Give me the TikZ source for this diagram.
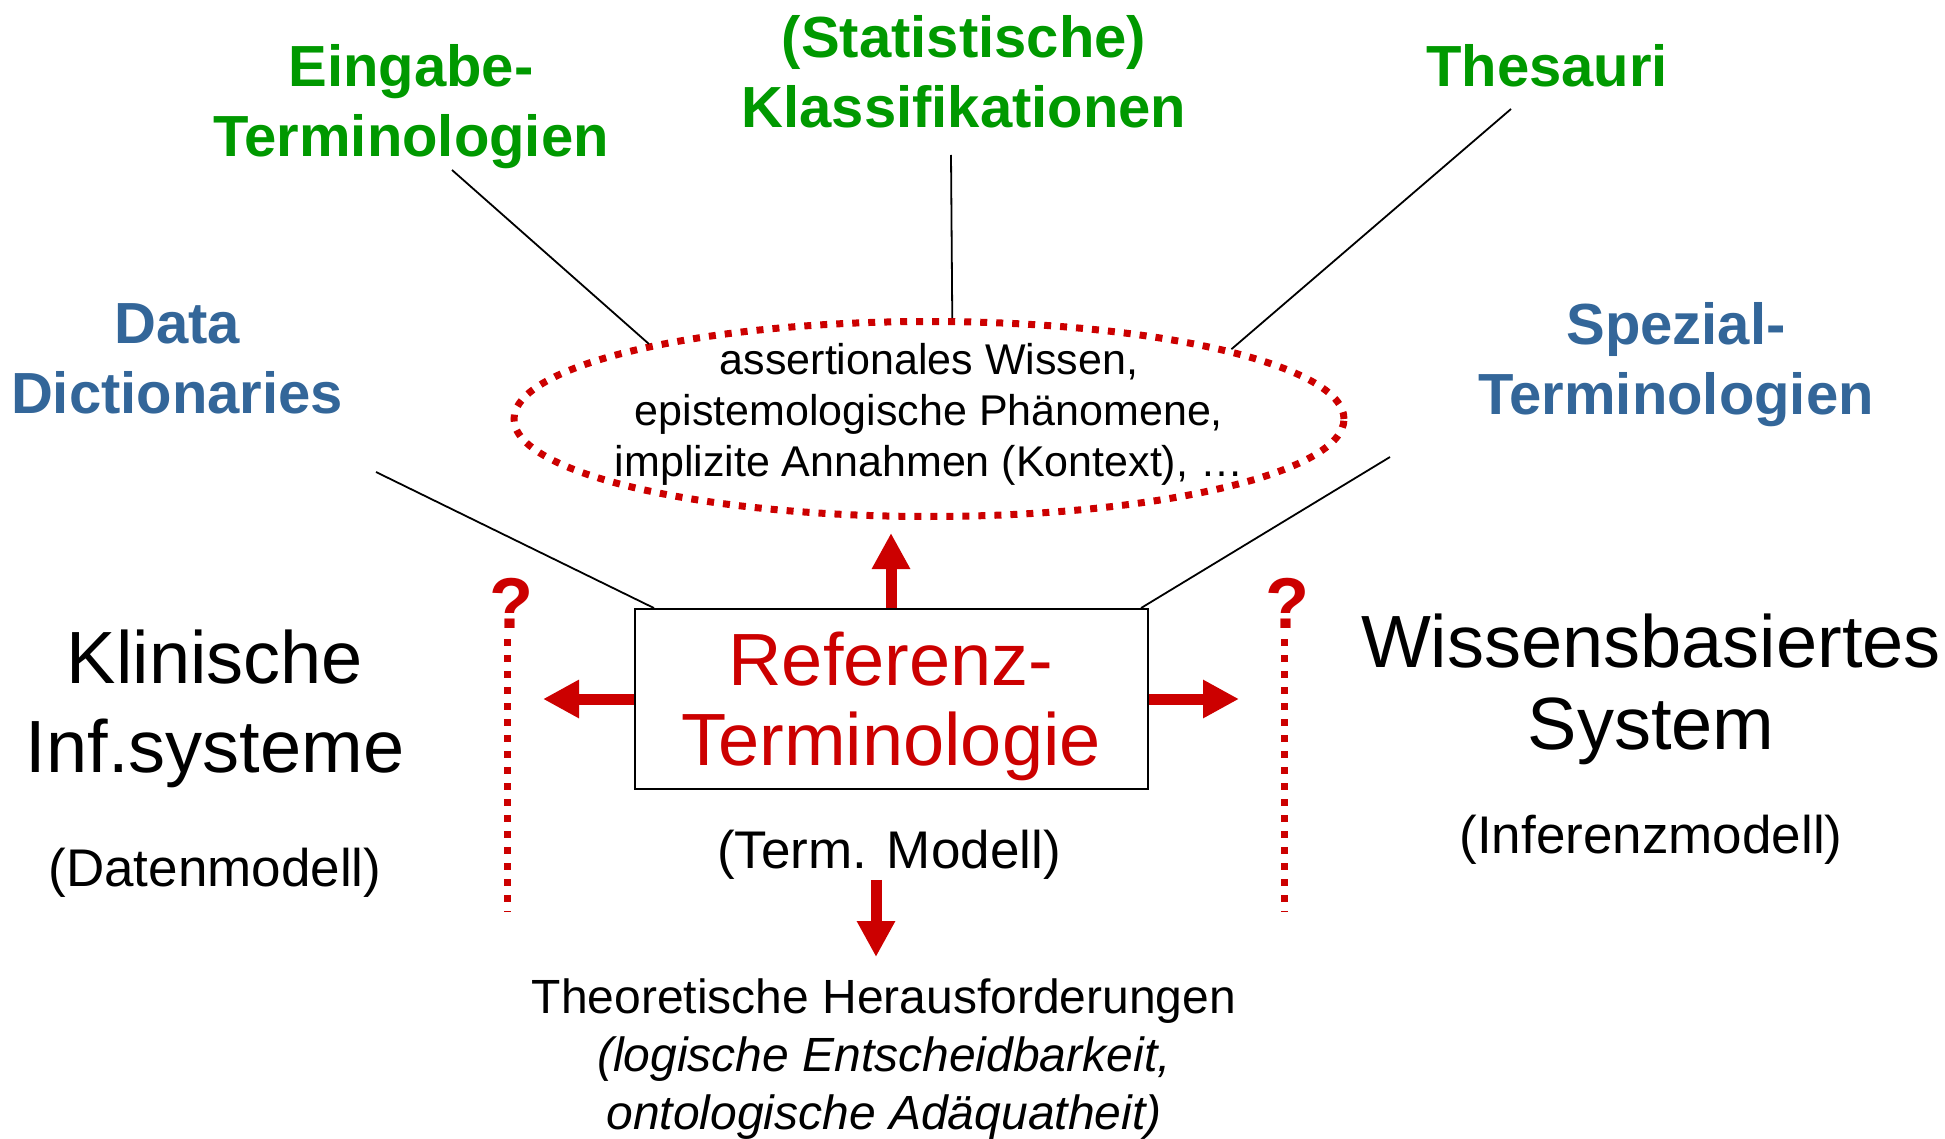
\documentclass[tikz,border=0pt]{standalone}
\usepackage{fontspec}
\setmainfont{Liberation Sans}
\usetikzlibrary{arrows.meta,shapes.geometric}
\definecolor{termgreen}{RGB}{0,153,0}
\definecolor{termblue}{RGB}{51,102,153}
\definecolor{termred}{RGB}{204,0,0}
\begin{document}
\begin{tikzpicture}[x=1pt,y=-1pt,
    connline/.style={draw=black,line width=1.8pt},
    greenlbl/.style={text=termgreen,font=\fontsize{58}{70}\selectfont\bfseries,align=center,inner sep=0pt},
    bluelbl/.style={text=termblue,font=\fontsize{58}{70}\selectfont\bfseries,align=center,inner sep=0pt},
    biglbl/.style={font=\fontsize{74}{89}\selectfont,align=center,inner sep=0pt},
    midlbl/.style={font=\fontsize{53}{64}\selectfont,inner sep=0pt},
    qmark/.style={text=termred,font=\fontsize{72}{80}\selectfont\bfseries,inner sep=0pt},
    redarrow/.style={termred,line width=11pt,-{Triangle[length=36pt,width=36pt]}},
    reddots/.style={termred,line width=7pt,dash pattern=on 7pt off 9pt,shorten <=11pt}]
    \useasboundingbox[fill=white] (0,0) rectangle (1945,1139);

    % terminology kinds
    \node[greenlbl] (eing) at (411,107) {Eingabe-\\Terminologien};
    \node[greenlbl] (klass) at (964,72) {(Statistische)\\Klassifikationen};
    \node[greenlbl] (thes) at (1547,66) {Thesauri};
    \node[bluelbl] (datadict) at (177,359) {Data\\Dictionaries};
    \node[bluelbl] (spezial) at (1676,365) {Spezial-\\Terminologien};

    % knowledge ellipse
    \node[ellipse,draw=termred,line width=7pt,dash pattern=on 7pt off 9pt,
          minimum width=830pt,minimum height=195pt,inner sep=0pt] (wissen) at (929,419) {};
    \node[font=\fontsize{43}{51}\selectfont,align=center,inner sep=0pt] (wissentext) at (929,414)
        {assertionales Wissen,\\epistemologische Phänomene,\\implizite Annahmen (Kontext), …};

    % reference terminology
    \node[draw,line width=2pt,minimum width=513pt,minimum height=180pt,inner sep=0pt,
          text=termred,font=\fontsize{74}{80}\selectfont,align=center,text depth=0pt] (refterm) at (891,699)
        {Referenz-\\Terminologie};
    \node[midlbl] (termmod) at (889,855) {(Term. Modell)};

    \node[biglbl] (klin) at (215,709) {Klinische\\Inf.systeme};
    \node[midlbl] (datenm) at (215,873) {(Datenmodell)};
    \node[biglbl,font=\fontsize{74}{82}\selectfont] (wbs) at (1651,689) {Wissensbasiertes\\System};
    \node[midlbl] (infm) at (1651,840) {(Inferenzmodell)};

    \node[font=\fontsize{48}{58}\selectfont,align=center,inner sep=0pt] (theo) at (884,1059)
        {Theoretische Herausforderungen\\\textit{(logische Entscheidbarkeit,}\\\textit{ontologische Adäquatheit)}};

    \node[qmark] (qleft) at (511,603) {?};
    \node[qmark] (qright) at (1287,603) {?};

    % free ends
    \coordinate (eing-a) at (452,170);
    \coordinate (klass-a) at (951,155);
    \coordinate (thes-a) at (1511,109);
    \coordinate (datadict-a) at (376,472);
    \coordinate (spezial-a) at (1390,457);
    \coordinate (uptip) at (891,533);
    \coordinate (lefttip) at (543,699);
    \coordinate (righttip) at (1239,699);
    \coordinate (dntip) at (876,957);
    \coordinate (qleft-end) at (507,912);
    \coordinate (qright-end) at (1284,912);

    \draw[connline] (eing-a) -- (wissen.165);
    \draw[connline] (klass-a) -- (wissen.77);
    \draw[connline] (thes-a) -- (wissen.13);
    \draw[connline] (datadict-a) -- (refterm.159.5);
    \draw[connline] (spezial-a) -- (refterm.20.4);

    \draw[redarrow] (refterm.north) -- (uptip);
    \draw[redarrow] (refterm.west) -- (lefttip);
    \draw[redarrow] (refterm.east) -- (righttip);
    \draw[redarrow] (termmod.south -| dntip) -- (dntip);

    \draw[reddots] (qleft.south -| qleft-end) -- (qleft-end);
    \draw[reddots] (qright.south -| qright-end) -- (qright-end);
\end{tikzpicture}
\end{document}
